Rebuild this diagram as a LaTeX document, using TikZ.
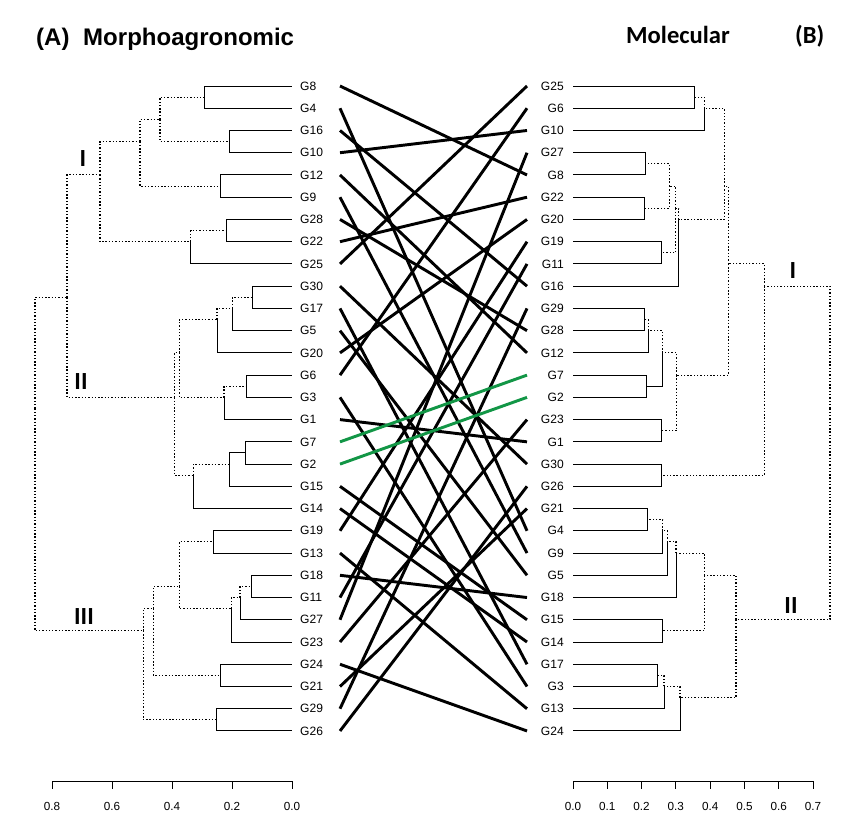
\documentclass[tikz,border=0pt]{standalone}
\usepackage{fontspec}
\setmainfont{Liberation Sans}
\newfontfamily\calibfont{Carlito}
\definecolor{linkgreen}{RGB}{18,150,70}
\begin{document}
\begin{tikzpicture}[x=0.03cm,y=-0.03cm,
    leaf/.style={font=\fontsize{10.3}{11}\selectfont,inner sep=0pt},
    axlab/.style={font=\fontsize{10}{11}\selectfont,inner sep=0pt},
    tie/.style={line width=0.85pt},
    dots/.style={line width=0.9pt,dash pattern=on 1.2pt off 1.6pt},
    link/.style={line width=2.5pt},
    ttl/.style={font=\bfseries\fontsize{20.5}{22}\selectfont,inner sep=0pt},
    clus/.style={font=\calibfont\bfseries\fontsize{21}{22}\selectfont,inner sep=0pt}]
\useasboundingbox (0,0) rectangle (850,830);
\newcommand{\mergept}[4]{\coordinate (#1) at (#2,{86+11.12*(#3+#4)});}
% leaves, left and right
\foreach \g [count=\i from 0] in {G8,G4,G16,G10,G12,G9,G28,G22,G25,G30,G17,G5,G20,G6,G3,G1,G7,G2,G15,G14,G19,G13,G18,G11,G27,G23,G24,G21,G29,G26}{
  \coordinate (L\g) at (292,{86+22.24*\i});
  \coordinate (tL\g) at (340,{86+22.24*\i});
  \node[leaf,anchor=west] (labL\g) at (300,{86+22.24*\i}) {\g};
}
\foreach \g [count=\i from 0] in {G25,G6,G10,G27,G8,G22,G20,G19,G11,G16,G29,G28,G12,G7,G2,G23,G1,G30,G26,G21,G4,G9,G5,G18,G15,G14,G17,G3,G13,G24}{
  \coordinate (R\g) at (573,{86+22.24*\i});
  \coordinate (tR\g) at (527,{86+22.24*\i});
  \node[leaf,anchor=east] (labR\g) at (564,{86+22.24*\i}) {\g};
}
% (A) morphoagronomic tree
\mergept{a1}{204}{0}{1}\mergept{a2}{229}{2}{3}\mergept{a3}{160}{0}{3}
\mergept{a4}{220}{4}{5}\mergept{a5}{140}{0}{5}\mergept{a6}{226.7}{6}{7}
\mergept{a7}{190.7}{6}{8}\mergept{a8}{100}{0}{8}
\mergept{b1}{252.7}{9}{10}\mergept{b2}{232.3}{9}{11}\mergept{b3}{217}{9}{12}
\mergept{b4}{246.7}{13}{14}\mergept{b5}{224}{13}{15}\mergept{b6}{179.3}{9}{15}
\mergept{c1}{245.7}{16}{17}\mergept{c2}{229}{16}{18}\mergept{c3}{193.3}{16}{19}
\mergept{d1}{213.3}{20}{21}\mergept{d2}{251.7}{22}{23}\mergept{d3}{240}{22}{24}
\mergept{d4}{231.3}{22}{25}\mergept{d5}{179.3}{20}{25}\mergept{d6}{220.3}{26}{27}
\mergept{d7}{153.3}{20}{27}\mergept{d8}{216.7}{28}{29}
\mergept{lI}{67}{0}{19}\mergept{lII}{174.3}{9}{19}\mergept{lIII}{143.3}{20}{29}
\mergept{lroot}{35}{0}{29}
\foreach \p/\c in {a1/LG8,a1/LG4,a2/LG16,a2/LG10,a4/LG12,a4/LG9,a6/LG28,a6/LG22,a7/LG25,
  b1/LG30,b1/LG17,b2/LG5,b3/LG20,b4/LG6,b4/LG3,b5/LG1,c1/LG7,c1/LG2,c2/c1,c2/LG15,c3/LG14,
  d1/LG19,d1/LG13,d2/LG18,d2/LG11,d3/LG27,d4/LG23,d6/LG24,d6/LG21,d8/LG29,d8/LG26}
  \draw[tie] (\p) |- (\c);
\foreach \p/\c in {a3/a1,a3/a2,a5/a3,a5/a4,a7/a6,a8/a5,a8/a7,lI/a8,lI/lII,b2/b1,b3/b2,b5/b4,
  b6/b3,b6/b5,lII/b6,lII/c3,c3/c2,d3/d2,d4/d3,d5/d1,d5/d4,d7/d5,d7/d6,lIII/d7,lIII/d8,
  lroot/lI,lroot/lIII}
  \draw[dots] (\p) |- (\c);
% (B) molecular tree
\mergept{e1}{694.7}{0}{1}\mergept{e2}{704.3}{0}{2}\mergept{e3}{645}{3}{4}
\mergept{e4}{644}{5}{6}\mergept{e5}{669.3}{3}{6}\mergept{e6}{661.3}{7}{8}
\mergept{e7}{675.7}{3}{8}\mergept{e8}{678.7}{3}{9}\mergept{e9}{724.3}{0}{9}
\mergept{h1}{644}{10}{11}\mergept{h2}{648.3}{10}{12}\mergept{h3}{646}{13}{14}
\mergept{h4}{662.3}{10}{14}\mergept{h5}{661.3}{15}{16}\mergept{h6}{676.7}{10}{16}
\mergept{h7}{728.3}{0}{16}\mergept{h8}{661.3}{17}{18}
\mergept{i1}{647.3}{19}{20}\mergept{i2}{662.7}{19}{21}\mergept{i3}{667.3}{19}{22}
\mergept{i4}{676}{19}{23}\mergept{i5}{662.3}{24}{25}\mergept{i6}{704.3}{19}{25}
\mergept{i7}{657.3}{26}{27}\mergept{i8}{664}{26}{28}\mergept{i9}{680}{26}{29}
\mergept{rI}{764.3}{0}{18}\mergept{rII}{736}{19}{29}\mergept{rroot}{830}{0}{29}
\foreach \p/\c in {e1/RG25,e1/RG6,e2/RG10,e3/RG27,e3/RG8,e4/RG22,e4/RG20,e6/RG19,e6/RG11,
  e8/RG16,h1/RG29,h1/RG28,h2/RG12,h3/RG7,h3/RG2,h4/h3,h5/RG23,h5/RG1,h8/RG30,h8/RG26,
  i1/RG21,i1/RG4,i2/RG9,i3/RG5,i4/RG18,i5/RG15,i5/RG14,i7/RG17,i7/RG3,i8/RG13,i9/RG24}
  \draw[tie] (\p) |- (\c);
\foreach \p/\c in {e2/e1,e5/e3,e5/e4,e7/e5,e7/e6,e8/e7,e9/e2,e9/e8,h2/h1,h4/h2,h6/h4,h6/h5,
  h7/e9,h7/h6,rI/h7,rI/h8,i2/i1,i3/i2,i4/i3,i6/i4,i6/i5,i8/i7,i9/i8,rII/i6,rII/i9,
  rroot/rI,rroot/rII}
  \draw[dots] (\p) |- (\c);
% links between the two orders
\foreach \g in {G1,G3,G4,G5,G6,G8,G9,G10,G11,G12,G13,G14,G15,G16,G17,G18,G19,G20,
  G21,G22,G23,G24,G25,G26,G27,G28,G29,G30}
  \draw[link] (tL\g) -- (tR\g);
\foreach \g in {G7,G2}
  \draw[link,linkgreen] (tL\g) -- (tR\g);
% scales
\draw[tie] (52,781) -- (292,781);
\foreach \v in {0.0,0.2,0.4,0.6,0.8}{
  \draw[tie] ({292-300*\v},781) -- ++(0,8);
  \node[axlab] at ({292-300*\v},806) {\v};
}
\draw[tie] (573,781) -- (813,781);
\foreach \v in {0.0,0.1,0.2,0.3,0.4,0.5,0.6,0.7}{
  \draw[tie] ({573+342.86*\v},781) -- ++(0,8);
  \node[axlab] at ({573+342.86*\v},806) {\v};
}
% titles and cluster names
\node[ttl,anchor=base west] (tA) at (36,45) {(A)};
\node[ttl,anchor=base west] (tMorph) at (83,45) {Morphoagronomic};
\node[clus,anchor=base west] (tMol) at (626,43) {Molecular};
\node[clus,anchor=base west] (tB) at (795,43) {(B)};
\node[clus,anchor=base] (kI) at (83,166.7) {I};
\node[clus,anchor=base] (kII) at (81,389) {II};
\node[clus,anchor=base] (kIII) at (84,624) {III};
\node[clus,anchor=base] (kIr) at (793,278) {I};
\node[clus,anchor=base] (kIIr) at (791,613) {II};
\end{tikzpicture}
\end{document}
